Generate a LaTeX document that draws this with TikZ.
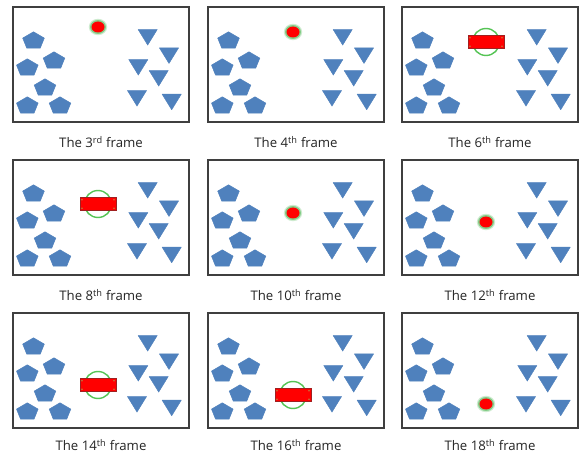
\documentclass[tikz,border=0pt]{standalone}
\usepackage{fontspec}
\setmainfont{Open Sans}
\definecolor{shapeblue}{HTML}{4F81BD}
\definecolor{framegray}{HTML}{3F3F3F}
\definecolor{glowgreen}{HTML}{3CB043}
\definecolor{ringgreen}{HTML}{55C455}
\definecolor{barborder}{HTML}{A02020}
\definecolor{handle}{HTML}{C08040}
\begin{document}
\begin{tikzpicture}[x=1pt,y=-1pt,
  framebox/.style={draw=framegray,line width=1.1pt,fill=white},
  caption/.style={font=\fontsize{13.2}{15}\selectfont,text=black!85,inner sep=0pt},
  pent/.pic={\fill[shapeblue,draw=shapeblue,line width=0.5pt,line join=round] (0,-8.2) -- (10.8,-1.9) -- (6.7,8.2) -- (-6.7,8.2) -- (-10.8,-1.9) -- cycle;},
  tri/.pic={\fill[shapeblue,draw=shapeblue,line width=0.4pt,line join=round] (-9.6,-7.8) -- (9.6,-7.8) -- (0,7.8) -- cycle;},
  dotshape/.pic={
    \fill[glowgreen,opacity=0.25] (0,0) ellipse [x radius=9.2,y radius=8.2];
    \fill[glowgreen,opacity=0.5] (0,0) ellipse [x radius=8,y radius=7];
    \fill[red] (0,0) ellipse [x radius=6.5,y radius=5.5];},
  barshape/.pic={
    \draw[ringgreen,line width=1.4pt] (0,0) circle [radius=13.5];
    \fill[red,draw=barborder,line width=0.6pt] (-18,-6.8) rectangle (18,6.8);
    \foreach \hx in {-16,16}{\foreach \hy in {-4.3,4.3}{\fill[handle] (\hx,\hy) circle [radius=0.9];}}}
]
\useasboundingbox (0,0) rectangle (579,457);
\fill[white] (0,0) rectangle (579,457);
\foreach \fx/\fy/\kind/\ox/\oy/\num/\sup/\cy in {
  13/7/dotshape/85/20/3/rd/142,
  208/7/dotshape/85/25/4/th/142,
  402/7/barshape/84/35/6/th/142,
  13/160/barshape/85/44/8/th/295,
  208/160/dotshape/85/53/10/th/295,
  402/160/dotshape/84/62/12/th/295,
  13/313/barshape/85/72/14/th/445,
  208/313/barshape/85/82/16/th/445,
  402/313/dotshape/84/91/18/th/445}{
  \begin{scope}[shift={(\fx,\fy)}]
    \draw[framebox] (0,0) rectangle (176,115);
    \foreach \px/\py in {20.5/33,41/53,14.3/60,32/80,14.3/98,47/98}{
      \pic at (\px,\py) {pent};}
    \foreach \tx/\ty in {134.7/30.3,156/48.7,125.3/60.3,145.7/71.3,124/91.3,158.7/95}{
      \pic at (\tx,\ty) {tri};}
    \pic at (\ox,\oy) {\kind};
  \end{scope}
  \node[caption] (cap\num) at ({\fx+88},\cy) {The \num\textsuperscript{\sup} frame};
}
\end{tikzpicture}
\end{document}
